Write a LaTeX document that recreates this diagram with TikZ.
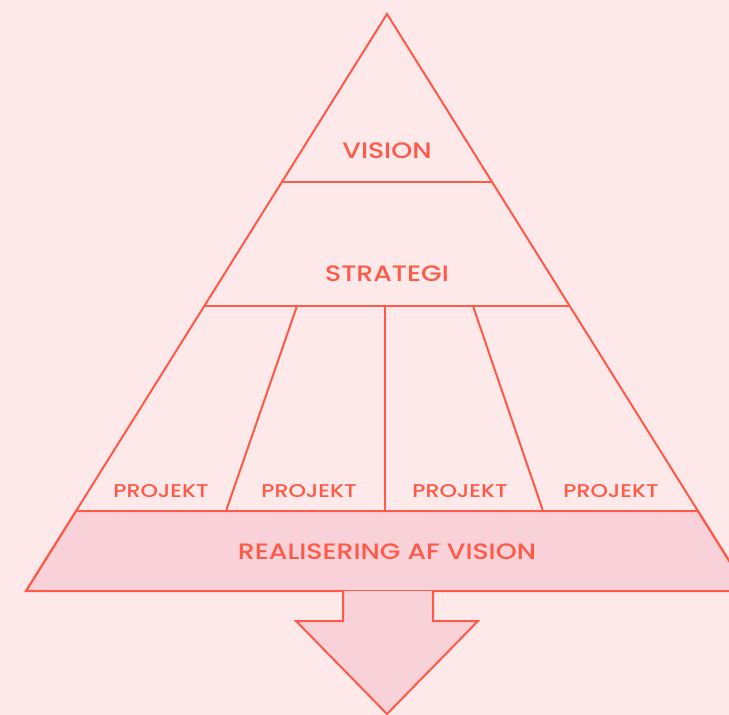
\documentclass[tikz,border=0pt]{standalone}
\usepackage{fontspec}
\setmainfont{Poppins}[FakeStretch=1.2]
\newfontfamily\medfont{Poppins Medium}[FakeStretch=1.2]
\definecolor{bgpink}{HTML}{FDE8EA}
\definecolor{fillpink}{HTML}{F9D1D8}
\definecolor{coral}{HTML}{FF5A47}
\begin{document}
\begin{tikzpicture}[x=1pt,y=-1pt,
  edge/.style={draw=coral,line width=2pt,line join=miter},
  lbl/.style={text=coral,font=\medfont\fontsize{22.3}{22.3}\selectfont,inner sep=0pt,anchor=center},
  slbl/.style={text=coral,font=\medfont\fontsize{18.5}{18.5}\selectfont,inner sep=0pt,anchor=center}]
\fill[bgpink] (0,0) rectangle (729,715);
\useasboundingbox (0,0) rectangle (729,715);
\begin{scope}
\clip (0,0) rectangle (729,715);
% coordinates
\coordinate (apex) at (387,14);
\coordinate (bl) at (26,591);
\coordinate (br) at (748,591);
\coordinate (v1) at (281.9,182);
\coordinate (v2) at (492.1,182);
\coordinate (s1) at (204.3,306);
\coordinate (s2) at (569.7,306);
\coordinate (p1) at (76,511);
\coordinate (p2) at (698,511);
\coordinate (d1t) at (297,306);
\coordinate (d1b) at (226,511);
\coordinate (d2t) at (385,306);
\coordinate (d2b) at (385,511);
\coordinate (d3t) at (473,306);
\coordinate (d3b) at (543,511);
% bottom band
\filldraw[edge,fill=fillpink] (p1) -- (p2) -- (br) -- (bl) -- cycle;
% arrow
\filldraw[edge,fill=fillpink] (343,591) -- (343,621) -- (296,621) -- (387,714) -- (478,621) -- (433,621) -- (433,591);
% triangle outline
\draw[edge] (bl) -- (apex) -- (br);
\draw[edge] (v1) -- (v2);
\draw[edge] (s1) -- (s2);
\draw[edge] (d1t) -- (d1b);
\draw[edge] (d2t) -- (d2b);
\draw[edge] (d3t) -- (d3b);
\end{scope}
\node[lbl] (vision) at (387,151) {VISION};
\node[lbl] (strategi) at (387,274) {STRATEGI};
\node[slbl] (pa) at (161,491) {PROJEKT};
\node[slbl] (pb) at (309,491) {PROJEKT};
\node[slbl] (pc) at (460,491) {PROJEKT};
\node[slbl] (pd) at (611,491) {PROJEKT};
\node[lbl] (real) at (387,552) {REALISERING AF VISION};
\end{tikzpicture}
\end{document}
